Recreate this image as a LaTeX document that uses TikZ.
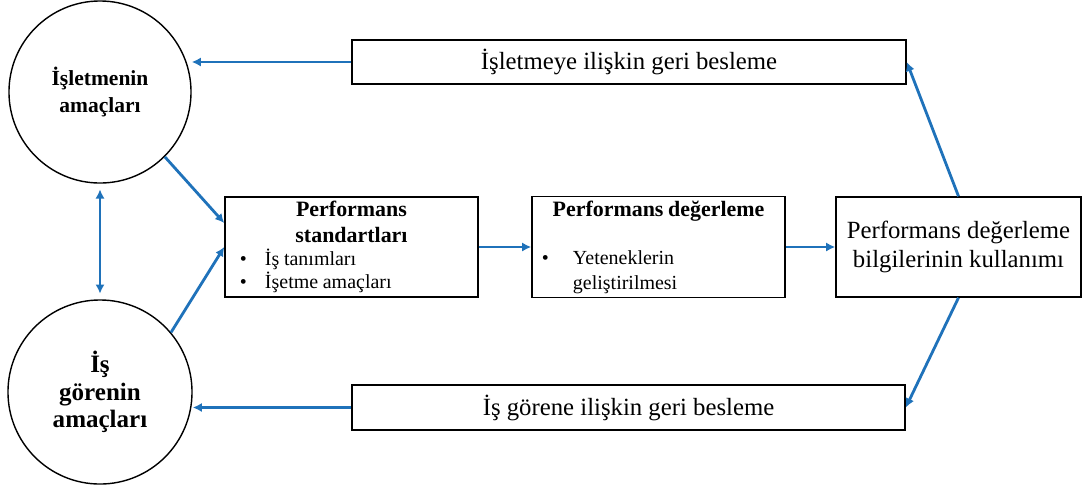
\documentclass[tikz,border=0pt]{standalone}
\usepackage{fontspec}
\setmainfont{Liberation Serif}
\usetikzlibrary{arrows.meta}
\definecolor{flowblue}{RGB}{31,114,186}

\newcommand{\bulletitem}[3]{\hspace*{#1}\makebox[#2][l]{\textbullet}#3}

\begin{document}
\begin{tikzpicture}[x=0.025cm, y=-0.025cm,
    goal/.style={draw, circle, line width=1pt, minimum size=4.55cm, inner sep=0pt, align=center},
    box/.style={draw, rectangle, line width=1pt, inner sep=0.1cm},
    flow/.style={draw=flowblue, line width=2pt, -{Latex[length=6.5pt,width=6.5pt]}},
    flowboth/.style={draw=flowblue, line width=2pt, {Latex[length=6.5pt,width=6.5pt]}-{Latex[length=6.5pt,width=6.5pt]}}]
    \useasboundingbox (0,0) rectangle (1082,489);

    \node[goal, font=\bfseries\fontsize{15.3}{19.2}\selectfont] (c1) at (100,92) {İşletmenin\\amaçları};
    \node[goal, minimum size=4.6cm, font=\bfseries\fontsize{17.8}{19.6}\selectfont] (c2) at (100,392) {İş\\görenin\\amaçları};

    \node[box, minimum width=13.85cm, minimum height=1.1cm, font=\fontsize{17.6}{20}\selectfont] (fb1) at (629,62) {İşletmeye ilişkin geri besleme};
    \node[box, minimum width=13.825cm, minimum height=1.125cm, font=\fontsize{17.6}{20}\selectfont] (fb2) at (628.5,407.5) {İş görene ilişkin geri besleme};

    \node[box, text width=6.125cm, minimum height=2.5cm] (std) at (351.5,247) {%
      {\centering\bfseries\fontsize{15.6}{18.5}\selectfont Performans\\standartları\par}
      {\fontsize{14.2}{16.4}\selectfont
      \bulletitem{0.275cm}{0.625cm}{İş tanımları}\\
      \bulletitem{0.275cm}{0.625cm}{İşetme amaçları}\par}};
    \node[box, text width=6.125cm, minimum height=2.5cm] (deg) at (658.5,247) {%
      {\centering\bfseries\fontsize{15.6}{18.5}\selectfont Performans değerleme\par}
      \vspace{17pt}
      {\fontsize{14.2}{17.5}\selectfont
      \bulletitem{0.15cm}{0.775cm}{Yeteneklerin}\\
      \hspace*{0.925cm}geliştirilmesi\par}};
    \node[box, minimum width=6.125cm, minimum height=2.5cm, align=center, font=\fontsize{17.6}{20}\selectfont] (kul) at (958.5,247) {Performans değerleme\\bilgilerinin kullanımı};

    % geri besleme
    \draw[flow] (fb1.west) -- (fb1.west -| c1.east);
    \draw[flow] (fb2.west) -- (fb2.west -| c2.east);
    \draw[flow] (kul.north) -- (fb1.east);
    \draw[flow] (kul.south) -- (fb2.east);

    % amaclar
    \draw[flow] (c1.-45) -- ([yshift=0.6cm]std.west);
    \draw[flow] (c2.40) -- (std.west);
    \draw[flowboth, shorten <=4pt, shorten >=4pt] (c1.south) -- (c2.north);

    \draw[flow] (std.east) -- (deg.west);
    \draw[flow] (deg.east) -- (kul.west);
\end{tikzpicture}
\end{document}
